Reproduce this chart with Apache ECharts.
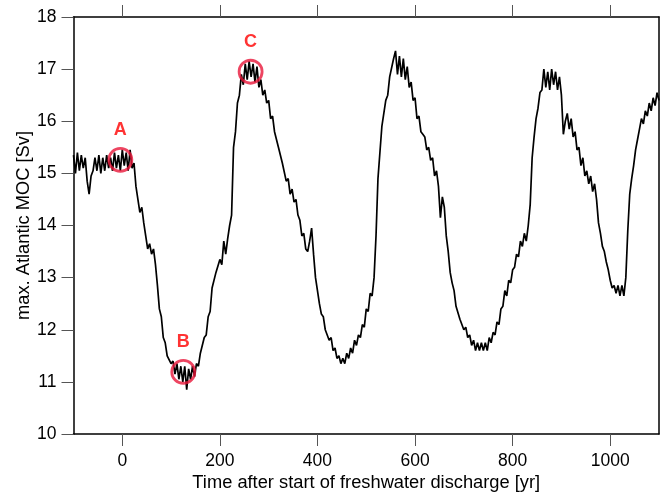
<!DOCTYPE html>
<html>
<head>
<meta charset="utf-8">
<script src="https://cdn.jsdelivr.net/npm/echarts@6/dist/echarts.min.js"></script>
<style>
  html, body { margin: 0; padding: 0; background: #ffffff; }
  #chart { width: 660px; height: 494px; }
</style>
</head>
<body>
<div id="chart"></div>
<script>
// Time axis: model years, one sample every 4 years from -100 to 1100
const yearStart = -100;
const yearStep = 4;

// Maximum Atlantic overturning strength [Sv]
const mocValues = [
  15.35, 15.0, 15.4, 15.05, 15.35, 15.1, 15.3, 14.85, 14.6, 14.95,
  15.05, 15.3, 15.05, 15.35, 15.0, 15.3, 15.05, 15.35, 15.1, 15.3,
  15.05, 15.4, 15.1, 15.35, 15.05, 15.45, 15.15, 15.4, 15.05, 15.45,
  15.1, 15.2, 14.75, 14.5, 14.25, 14.35, 14.05, 13.8, 13.55, 13.65,
  13.45, 13.55, 13.25, 12.85, 12.4, 12.25, 11.85, 11.75, 11.5, 11.5,
  11.35, 11.4, 11.15, 11.35, 11.05, 11.3, 11.0, 11.3, 10.85, 11.25,
  11.05, 11.3, 11.1, 11.35, 11.3, 11.55, 11.55, 11.85, 11.9, 12.25,
  12.35, 12.8, 12.8, 13.1, 13.1, 13.35, 13.25, 13.7, 13.45, 13.75,
  14.0, 14.2, 15.5, 15.8, 16.35, 16.5, 16.9, 16.7, 17.1, 16.8,
  17.15, 16.85, 17.1, 16.75, 17.05, 16.65, 16.8, 16.5, 16.6, 16.35,
  16.4, 16.05, 16.1, 15.8, 15.8, 15.5, 15.5, 15.2, 15.2, 14.85,
  14.9, 14.6, 14.7, 14.45, 14.5, 14.2, 14.1, 13.8, 13.85, 13.55,
  13.5, 13.7, 13.95, 13.45, 13.0, 12.75, 12.5, 12.3, 12.25, 12.0,
  12.0, 11.8, 11.85, 11.6, 11.65, 11.45, 11.5, 11.35, 11.45, 11.35,
  11.55, 11.45, 11.65, 11.55, 11.8, 11.7, 11.9, 11.85, 12.1, 12.05,
  12.4, 12.35, 12.7, 12.65, 13.0, 13.8, 14.9, 15.4, 15.9, 16.15,
  16.4, 16.5, 16.85, 16.85, 17.2, 17.35, 16.9, 17.25, 16.85, 17.2,
  16.8, 17.05, 16.65, 16.75, 16.4, 16.45, 16.05, 16.1, 15.8, 15.75,
  15.7, 15.45, 15.5, 15.25, 15.3, 14.95, 15.05, 14.75, 14.15, 14.55,
  14.35, 13.8, 13.5, 13.1, 12.9, 12.75, 12.45, 12.45, 12.2, 12.2,
  12.0, 12.05, 11.85, 11.9, 11.7, 11.8, 11.6, 11.75, 11.6, 11.75,
  11.6, 11.75, 11.6, 11.85, 11.75, 11.95, 11.9, 12.15, 12.1, 12.4,
  12.45, 12.75, 12.65, 12.95, 12.9, 13.15, 13.2, 13.45, 13.4, 13.7,
  13.6, 13.85, 13.7, 14.0, 14.4, 15.3, 15.7, 16.05, 16.25, 16.55,
  16.6, 17.0, 16.65, 16.95, 16.6, 17.0, 16.7, 16.95, 16.6, 16.85,
  16.5, 15.75, 16.0, 16.15, 15.85, 16.05, 15.7, 15.8, 15.45, 15.5,
  15.15, 15.3, 14.95, 15.05, 14.8, 14.95, 14.65, 14.8, 14.5, 14.05,
  13.85, 13.6, 13.5, 13.3, 13.15, 12.95, 12.8, 12.85, 12.7, 12.85,
  12.65, 12.85, 12.65, 13.0, 13.9, 14.6, 14.9, 15.15, 15.45, 15.65,
  15.85, 16.05, 15.95, 16.2, 16.1, 16.35, 16.2, 16.45, 16.3, 16.55,
  16.4
];

// Marked states
const eventNames = ['A', 'B', 'C'];
const eventYears = [-4, 125, 263];
const eventValues = [15.26, 11.19, 16.95];

// Axis ticks
const xTicks = [0, 200, 400, 600, 800, 1000];
const yTicks = [10, 11, 12, 13, 14, 15, 16, 17, 18];

const lineData = mocValues.map((v, i) => [yearStart + i * yearStep, v]);
const eventData = eventNames.map((n, i) => ({ name: n, value: [eventYears[i], eventValues[i]] }));

const font = '"Liberation Sans", Arial, sans-serif';
const tickStyle = { color: '#555555', width: 1 };
const frameLine = { show: true, onZero: false, lineStyle: { color: '#000000', width: 1.5 } };
const plainNumber = v => String(v);

const chart = echarts.init(document.getElementById('chart'), null, { renderer: 'canvas' });
chart.setOption({
  animation: false,
  backgroundColor: '#ffffff',
  grid: { left: 73.5, right: 1, top: 17, bottom: 60, containLabel: false, outerBoundsMode: 'none' },
  xAxis: [
    {
      type: 'value', position: 'bottom', min: -100, max: 1100,
      name: 'Time after start of freshwater discharge [yr]',
      nameLocation: 'middle', nameGap: 40, nameMoveOverlap: false,
      nameTextStyle: { fontFamily: font, fontSize: 18.3, color: '#000' },
      axisLine: frameLine,
      axisTick: { show: true, inside: false, length: 12, lineStyle: tickStyle, customValues: xTicks },
      axisLabel: { show: true, margin: 18, fontFamily: font, fontSize: 17.5, color: '#000', customValues: xTicks, formatter: plainNumber },
      splitLine: { show: false }
    },
    {
      type: 'value', position: 'top', min: -100, max: 1100,
      axisLine: frameLine,
      axisTick: { show: true, inside: false, length: 12, lineStyle: tickStyle, customValues: xTicks },
      axisLabel: { show: false },
      splitLine: { show: false }
    }
  ],
  yAxis: [
    {
      type: 'value', position: 'left', min: 10, max: 18, interval: 1,
      name: 'max. Atlantic MOC [Sv]',
      nameLocation: 'middle', nameGap: 41, nameMoveOverlap: false,
      nameTextStyle: { fontFamily: font, fontSize: 18.3, color: '#000' },
      axisLine: frameLine,
      axisTick: { show: true, inside: false, length: 12, lineStyle: tickStyle, customValues: yTicks },
      axisLabel: { show: true, margin: 17, fontFamily: font, fontSize: 17.5, color: '#000', customValues: yTicks, formatter: plainNumber },
      splitLine: { show: false }
    },
    {
      type: 'value', position: 'right', min: 10, max: 18,
      axisLine: frameLine,
      axisTick: { show: false },
      axisLabel: { show: false },
      splitLine: { show: false }
    }
  ],
  series: [
    {
      type: 'line',
      data: lineData,
      xAxisIndex: 0, yAxisIndex: 0,
      showSymbol: false,
      smooth: false,
      lineStyle: { color: '#000000', width: 1.7 },
      z: 2
    },
    {
      type: 'scatter',
      data: eventData,
      xAxisIndex: 0, yAxisIndex: 0,
      symbol: 'circle',
      symbolSize: 23,
      itemStyle: { color: 'rgba(0,0,0,0)', borderColor: '#e8173a', borderWidth: 2.8 },
      label: {
        show: true, position: 'top', distance: 8,
        formatter: p => p.name,
        fontFamily: font, fontSize: 18, fontWeight: 'bold', color: '#ff0000'
      },
      emphasis: { disabled: true },
      z: 3
    }
  ]
});
</script>
</body>
</html>
